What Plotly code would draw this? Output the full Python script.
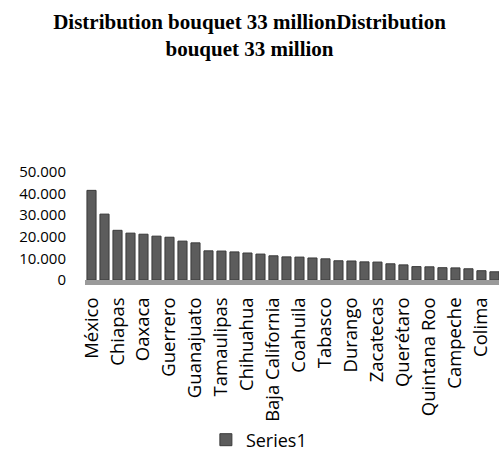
import plotly.graph_objects as go

# States, ordered by value
states = [
    "México", "Veracruz", "Chiapas", "Puebla", "Oaxaca", "Jalisco", "Guerrero",
    "Michoacán", "Guanajuato", "Distrito Federal", "Tamaulipas", "Nuevo León",
    "Chihuahua", "Sonora", "Baja California", "Sinaloa", "Coahuila", "Hidalgo",
    "Tabasco", "San Luis Potosí", "Durango", "Yucatán", "Zacatecas", "Morelos",
    "Querétaro", "Nayarit", "Quintana Roo", "Tlaxcala", "Campeche",
    "Aguascalientes", "Colima", "Baja California Sur",
]
series1 = [
    41500, 30500, 23000, 21700, 21200, 20300, 19800, 18000, 17200, 13500,
    13400, 13000, 12500, 12000, 11200, 10700, 10600, 10200, 9800, 8900,
    8800, 8400, 8300, 7500, 7000, 6200, 6100, 5700, 5600, 5200, 4300, 3800,
]
# Every other state is labelled on the axis
tick_states = states[::2]
y_ticks = [0, 10000, 20000, 30000, 40000, 50000]

fig = go.Figure()
fig.add_trace(go.Bar(
    x=states,
    y=series1,
    name="Series1",
    marker=dict(color="#5c5c5c", line=dict(color="#3a3a3a", width=1)),
    showlegend=True,
))

fig.update_layout(
    width=499,
    height=460,
    margin=dict(l=85, r=0, t=172, b=180),
    paper_bgcolor="white",
    plot_bgcolor="white",
    separators=",.",
    bargap=0.3,
    title=dict(
        text="<b>Distribution bouquet 33 millionDistribution<br>bouquet 33 million</b>",
        x=0.5,
        xanchor="center",
        y=1 - 29 / 460,
        yanchor="middle",
        yref="container",
        font=dict(family="Liberation Serif, Times New Roman, serif", size=21, color="black"),
    ),
    font=dict(family="Open Sans, sans-serif", size=15, color="black"),
    xaxis=dict(
        tickmode="array",
        tickvals=tick_states,
        ticktext=tick_states,
        tickangle=-90,
        range=[-0.5, 31.35],
        showgrid=False,
        showline=True,
        linecolor="#9a9a9a",
        linewidth=5,
        ticks="outside",
        ticklen=5,
        tickcolor="rgba(0,0,0,0)",
        tickfont=dict(family="Open Sans, sans-serif", size=18.5, color="black"),
    ),
    yaxis=dict(
        range=[0, 50000],
        tickvals=y_ticks,
        tickformat=",d",
        showgrid=False,
        zeroline=False,
        showline=False,
        ticks="",
        ticklabelstandoff=18,
        tickfont=dict(family="Open Sans, sans-serif", size=15, color="black"),
    ),
    legend=dict(
        orientation="h",
        x=0.42,
        xanchor="center",
        y=-(440 - 280) / 108,
        yanchor="middle",
        bgcolor="rgba(0,0,0,0)",
        font=dict(family="Open Sans, sans-serif", size=18, color="black"),
    ),
)

fig.write_html("out.html")
